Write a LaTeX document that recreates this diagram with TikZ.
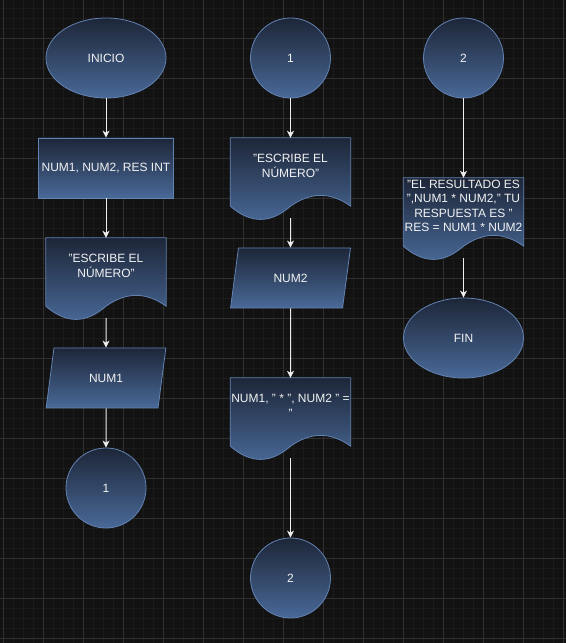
\documentclass[tikz,border=0pt]{standalone}
\usepackage{fontspec}
\setmainfont{Liberation Sans}
\usetikzlibrary{shapes.geometric,arrows.meta,backgrounds}

\definecolor{canvas}{RGB}{18,18,18}
\definecolor{minorline}{RGB}{27,27,27}
\definecolor{majorline}{RGB}{48,48,48}
\definecolor{fctop}{RGB}{29,38,56}
\definecolor{fcbot}{RGB}{73,105,152}
\definecolor{fcline}{RGB}{98,130,178}
\definecolor{flowcol}{RGB}{238,238,238}

\tikzset{>={Stealth[length=7bp,width=7bp,inset=2bp]},
         txt/.style={text=white!90!gray, font=\fontsize{12bp}{14.5bp}\selectfont, align=center, inner sep=0pt},
      fcfill/.style={top color=fctop, bottom color=fcbot, draw=fcline, line width=0.8bp},
          fc/.style={txt, fcfill},
        term/.style={fc, ellipse, minimum width=120bp, minimum height=80bp},
        conn/.style={fc, circle, minimum size=80bp},
         box/.style={fc, rectangle, minimum width=135bp, minimum height=60bp},
          io/.style={fc, trapezium, trapezium left angle=73, trapezium right angle=107,
                     trapezium stretches=true, minimum width=120bp, minimum height=60bp},
     docnode/.style={txt, rectangle, minimum width=120bp, minimum height=80bp, text depth=24bp},
        flow/.style={draw=flowcol, line width=1bp, ->}}

\newcommand\docshape[1]{%
  \path[fcfill] (#1.north west) -- (#1.north east)
    -- ([yshift=12bp]#1.south east)
    .. controls ([shift={(-20bp,26.4bp)}]#1.south east) and ([shift={(-40bp,26.4bp)}]#1.south east) .. ([yshift=12bp]#1.south)
    .. controls ([shift={(-20bp,-5.6bp)}]#1.south) and ([shift={(-40bp,-5.6bp)}]#1.south) .. ([yshift=12bp]#1.south west)
    -- cycle;}

\begin{document}
\begin{tikzpicture}[x=1bp, y=1bp]
    \useasboundingbox (0,0) rectangle (566,643);
    \begin{scope}[on background layer]
        \fill[canvas] (0,0) rectangle (566,643);
        \begin{scope}[shift={(3.3,4.7)}]
            \draw[minorline, line width=0.6bp, step=10] (-3.3,-4.7) grid (562.7,638.3);
            \draw[majorline, line width=0.8bp, step=40] (-3.3,-4.7) grid (562.7,638.3);
        \end{scope}
    \end{scope}

    \node[term]    at (106.0, 585) (inicio)   {INICIO};
    \node[box]     at (106.0, 475) (vars)     {NUM1, NUM2, RES INT};
    \node[docnode] at (106.0, 365) (pedir1)   {"ESCRIBE EL\\NÚMERO"};
    \node[io]      at (106.0, 265) (leer1)    {NUM1};
    \node[conn]    at (106.0, 155) (conA)     {1};

    \node[conn]    at (290.5, 585) (conB)     {1};
    \node[docnode] at (290.5, 465) (pedir2)   {"ESCRIBE EL\\NÚMERO"};
    \node[io]      at (290.5, 365) (leer2)    {NUM2};
    \node[docnode] at (290.5, 225) (mostrar1) {NUM1, " * ", NUM2 " =\\"};
    \node[conn]    at (290.5,  65) (conC)     {2};

    \node[conn]    at (463.5, 585) (conD)     {2};
    \node[docnode] at (463.5, 425) (mostrar2) {"EL RESULTADO ES\\",NUM1 * NUM2," TU\\RESPUESTA ES "\\RES = NUM1 * NUM2};
    \node[term]    at (463.5, 305) (fin)      {FIN};

    \begin{scope}[on background layer]
        \docshape{pedir1}
        \docshape{pedir2}
        \docshape{mostrar1}
        \docshape{mostrar2}
    \end{scope}

    \draw[flow] (inicio)   -- (vars);
    \draw[flow] (vars)     -- (pedir1);
    \draw[flow] (pedir1)   -- (leer1);
    \draw[flow] (leer1)    -- (conA);
    \draw[flow] (conB)     -- (pedir2);
    \draw[flow] (pedir2)   -- (leer2);
    \draw[flow] (leer2)    -- (mostrar1);
    \draw[flow] (mostrar1) -- (conC);
    \draw[flow] (conD)     -- (mostrar2);
    \draw[flow] (mostrar2) -- (fin);
\end{tikzpicture}
\end{document}
